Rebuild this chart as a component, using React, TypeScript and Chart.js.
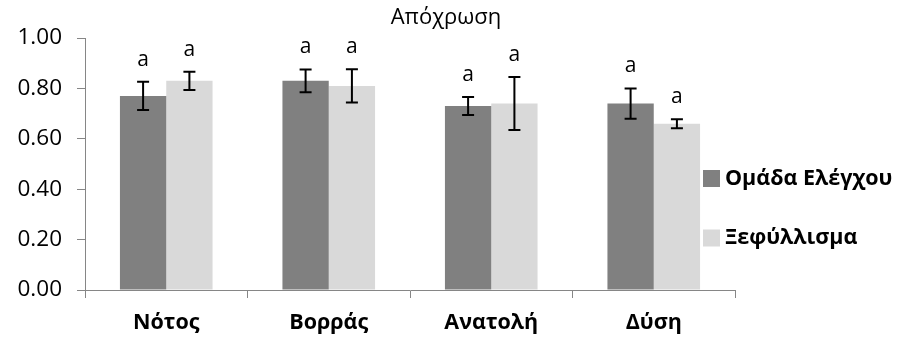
import React, { useEffect, useRef } from "react";
import { Chart, registerables } from "chart.js";

Chart.register(...registerables);

const categories = ["Νότος", "Βορράς", "Ανατολή", "Δύση"];
const seriesNames = ["Ομάδα Ελέγχου", "Ξεφύλλισμα"];
const controlValues = [0.77, 0.83, 0.73, 0.74];
const controlErrors = [0.056, 0.045, 0.036, 0.06];
const treatmentValues = [0.83, 0.81, 0.74, 0.66];
const treatmentErrors = [0.036, 0.066, 0.105, 0.018];
const controlLetters = ["a", "a", "a", "a"];
const treatmentLetters = ["a", "a", "a", "a"];
const titleText = "Απόχρωση";

const FONT = "'Open Sans', 'Noto Sans', sans-serif";
const AXIS_COLOR = "#868686";

const overlayPlugin = {
  id: "overlay",
  afterDatasetsDraw(chart: any) {
    const ctx = chart.ctx;
    const y = chart.scales.y;
    const errs = [controlErrors, treatmentErrors];
    const letters = [controlLetters, treatmentLetters];
    ctx.save();
    chart.data.datasets.forEach((ds: any, di: number) => {
      const meta = chart.getDatasetMeta(di);
      meta.data.forEach((bar: any, i: number) => {
        const v = ds.data[i];
        const e = errs[di][i];
        const x = bar.x;
        const yt = y.getPixelForValue(v + e);
        const yb = y.getPixelForValue(v - e);
        ctx.strokeStyle = "#000";
        ctx.lineWidth = 2;
        ctx.beginPath();
        ctx.moveTo(x, yt);
        ctx.lineTo(x, yb);
        ctx.moveTo(x - 6, yt);
        ctx.lineTo(x + 6, yt);
        ctx.moveTo(x - 6, yb);
        ctx.lineTo(x + 6, yb);
        ctx.stroke();
        ctx.fillStyle = "#000";
        ctx.font = `21px ${FONT}`;
        ctx.textAlign = "center";
        ctx.textBaseline = "middle";
        ctx.fillText(letters[di][i], x, yt - 22);
      });
    });
    ctx.restore();
  },
  afterDraw(chart: any) {
    const ctx = chart.ctx;
    ctx.save();
    ctx.fillStyle = "#000";
    ctx.font = `22px ${FONT}`;
    ctx.textAlign = "center";
    ctx.textBaseline = "middle";
    ctx.fillText(titleText, 446, 18);
    const items = [
      { name: seriesNames[0], color: chart.data.datasets[0].backgroundColor, cy: 178.5 },
      { name: seriesNames[1], color: chart.data.datasets[1].backgroundColor, cy: 238 },
    ];
    ctx.font = `bold 21.5px ${FONT}`;
    ctx.textAlign = "left";
    items.forEach((it) => {
      ctx.fillStyle = it.color;
      ctx.fillRect(703, it.cy - 8.5, 17, 17);
      ctx.fillStyle = "#000";
      ctx.fillText(it.name, 725, it.cy);
    });
    ctx.restore();
  },
};

export default function App() {
  const ref = useRef<HTMLCanvasElement | null>(null);
  useEffect(() => {
    if (!ref.current) return;
    const chart = new Chart(ref.current, {
      type: "bar",
      data: {
        labels: categories,
        datasets: [
          { label: seriesNames[0], data: controlValues, backgroundColor: "#808080", barPercentage: 1, categoryPercentage: 0.57 },
          { label: seriesNames[1], data: treatmentValues, backgroundColor: "#D9D9D9", barPercentage: 1, categoryPercentage: 0.57 },
        ],
      },
      options: {
        responsive: false,
        animation: false,
        layout: { padding: { top: 38, right: 166, left: 0, bottom: 0 } },
        plugins: { legend: { display: false }, title: { display: false }, tooltip: { enabled: false } },
        scales: {
          x: {
            grid: { drawOnChartArea: false, drawTicks: true, tickLength: 8, color: AXIS_COLOR, offset: true },
            border: { display: true, color: AXIS_COLOR, width: 1 },
            ticks: { color: "#000", font: { family: FONT, size: 21.5, weight: "bold" }, padding: 12 },
            afterFit: (s: any) => { s.height = 49; },
          },
          y: {
            min: 0,
            max: 1,
            grid: { drawOnChartArea: false, drawTicks: true, tickLength: 8, color: AXIS_COLOR },
            border: { display: true, color: AXIS_COLOR, width: 1 },
            ticks: { stepSize: 0.2, color: "#000", font: { family: FONT, size: 22.5 }, padding: 15, callback: (v: any) => Number(v).toFixed(2) },
            afterFit: (s: any) => { s.width = 85; },
          },
        },
      },
      plugins: [overlayPlugin],
    });
    return () => chart.destroy();
  }, []);
  return (
    <div style={{ position: "absolute", left: 0, top: 0, width: 901, height: 339 }}>
      <canvas ref={ref} width={901} height={339} style={{ display: "block" }} />
    </div>
  );
}
